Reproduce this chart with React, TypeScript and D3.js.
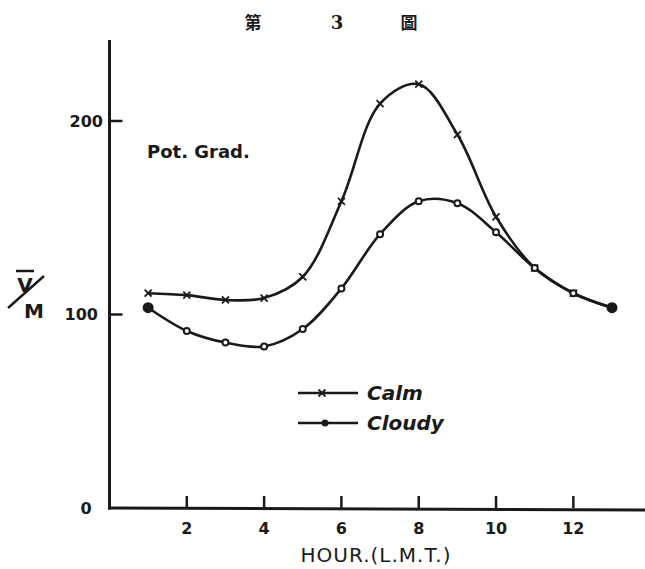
import React from "react";
import * as d3 from "d3";

// Diurnal variation of the potential gradient (V/M) by local mean time
const hours = [1, 2, 3, 4, 5, 6, 7, 8, 9, 10, 11, 12, 13];
const calmValues = [111, 110, 107.5, 108.5, 119.5, 158.5, 209, 219, 193, 150.5, 124, 111, 103.5];
const cloudyValues = [103.5, 91.5, 85.5, 83.5, 92.5, 113.5, 141.5, 158.5, 157.5, 142.5, 124, 111, 103.5];
const xTicks = [2, 4, 6, 8, 10, 12];
const yTicks = [0, 100, 200];
const titleParts = ["第", "3", "圖"];
const seriesNames = ["Calm", "Cloudy"];

const W = 645;
const H = 569;
const ink = "#1a1a1a";
const hand = "'DejaVu Sans', 'Liberation Sans', sans-serif";

export default function App() {
  const x = d3.scaleLinear().domain([0, 13]).range([109.5, 612]);
  const y = d3.scaleLinear().domain([0, 200]).range([508, 121]);

  const line = d3
    .line<number>()
    .x((_, i) => x(hours[i]))
    .y((v) => y(v))
    .curve(d3.curveCatmullRom.alpha(0.5));

  const calmPath = line(calmValues) || "";
  const cloudyPath = line(cloudyValues) || "";

  const cross = (cx: number, cy: number, s: number, key: string) => (
    <g key={key} stroke={ink} strokeWidth={1.8}>
      <line x1={cx - s} y1={cy - s} x2={cx + s} y2={cy + s} />
      <line x1={cx - s} y1={cy + s} x2={cx + s} y2={cy - s} />
    </g>
  );

  const titleX = [253, 337, 409];

  return (
    <svg
      width={W}
      height={H}
      viewBox={`0 0 ${W} ${H}`}
      style={{ position: "absolute", left: 0, top: 0, background: "#fff" }}
    >
      <rect x={0} y={0} width={W} height={H} fill="#fff" />

      {/* title */}
      {titleParts.map((t, i) => (
        <text
          key={t}
          x={titleX[i]}
          y={29}
          textAnchor="middle"
          fontFamily={i === 1 ? "'DejaVu Serif', serif" : "'Noto Sans CJK TC', sans-serif"}
          fontWeight={700}
          fontSize={i === 1 ? 18 : 17}
          fill={ink}
        >
          {t}
        </text>
      ))}

      {/* axes */}
      <line x1={x(0)} y1={40} x2={x(0)} y2={509.5} stroke={ink} strokeWidth={3} />
      <line x1={x(0) - 1.5} y1={508} x2={W} y2={510} stroke={ink} strokeWidth={3} />

      {/* y ticks */}
      {yTicks.map((t) => (
        <g key={`y${t}`}>
          {t > 0 && (
            <line x1={x(0)} y1={y(t)} x2={x(0) + 13} y2={y(t)} stroke={ink} strokeWidth={2.5} />
          )}
          <text
            x={t === 0 ? 86 : t === 100 ? 98 : 103}
            y={y(t)}
            dy="0.36em"
            textAnchor={t === 0 ? "middle" : "end"}
            fontFamily={hand}
            fontWeight={700}
            fontSize={16}
            fill={ink}
          >
            {t}
          </text>
        </g>
      ))}

      {/* x ticks */}
      {xTicks.map((t) => (
        <g key={`x${t}`}>
          <line x1={x(t)} y1={508} x2={x(t)} y2={496} stroke={ink} strokeWidth={2.5} />
          <text
            x={x(t)}
            y={534}
            textAnchor="middle"
            fontFamily={hand}
            fontWeight={700}
            fontSize={16}
            fill={ink}
          >
            {t}
          </text>
        </g>
      ))}

      {/* axis titles */}
      <text
        x={376}
        y={562}
        textAnchor="middle"
        fontFamily={hand}
        fontSize={20}
        letterSpacing={1}
        fill={ink}
      >
        HOUR.(L.M.T.)
      </text>
      <g fontFamily={hand} fontWeight={700} fontSize={20} fill={ink}>
        <line x1={16} y1={271} x2={34} y2={271} stroke={ink} strokeWidth={2.5} />
        <text x={25} y={292} textAnchor="middle">V</text>
        <line x1={8} y1={308} x2={44} y2={276} stroke={ink} strokeWidth={2.5} />
        <text x={34} y={318} textAnchor="middle">M</text>
      </g>
      <text
        x={147}
        y={158}
        fontFamily={hand}
        fontWeight={700}
        fontSize={18}
        fill={ink}
      >
        Pot. Grad.
      </text>

      {/* curves */}
      <path d={calmPath} fill="none" stroke={ink} strokeWidth={2.6} strokeLinejoin="round" />
      <path d={cloudyPath} fill="none" stroke={ink} strokeWidth={2.6} strokeLinejoin="round" />

      {/* markers */}
      {calmValues.map((v, i) => cross(x(hours[i]), y(v), 3.5, `c${i}`))}
      {cloudyValues.map((v, i) => {
        const end = i === 0 || i === cloudyValues.length - 1;
        return (
          <circle
            key={`d${i}`}
            cx={x(hours[i])}
            cy={y(v)}
            r={end ? 4.5 : 3}
            fill={end ? ink : "#fff"}
            stroke={ink}
            strokeWidth={2}
          />
        );
      })}

      {/* legend */}
      <line x1={298} y1={393} x2={358} y2={393} stroke={ink} strokeWidth={2.6} />
      {cross(322, 393, 3.5, "lc")}
      <text x={367} y={400} fontFamily={hand} fontStyle="italic" fontWeight={700} fontSize={20} fill={ink}>
        {seriesNames[0]}
      </text>
      <line x1={298} y1={423} x2={358} y2={423} stroke={ink} strokeWidth={2.6} />
      <circle cx={325} cy={423} r={3.5} fill={ink} />
      <text x={367} y={430} fontFamily={hand} fontStyle="italic" fontWeight={700} fontSize={20} fill={ink}>
        {seriesNames[1]}
      </text>
    </svg>
  );
}
